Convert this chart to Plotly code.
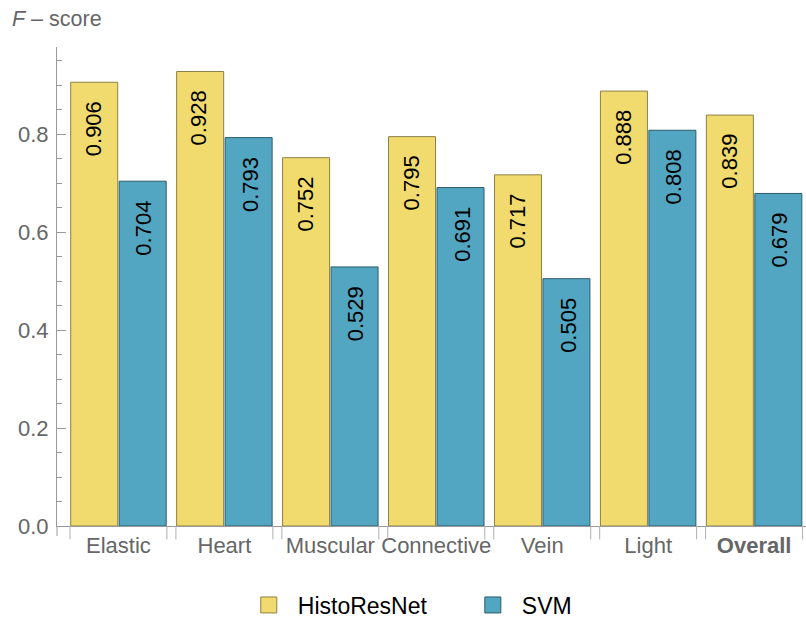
import plotly.graph_objects as go

categories = ["Elastic", "Heart", "Muscular", "Connective", "Vein", "Light", "Overall"]
tick_labels = ["Elastic", "Heart", "Muscular", "Connective", "Vein", "Light", "<b>Overall</b>"]
histo = [0.906, 0.928, 0.752, 0.795, 0.717, 0.888, 0.839]
svm = [0.704, 0.793, 0.529, 0.691, 0.505, 0.808, 0.679]
series_names = ["HistoResNet", "SVM"]

yellow = "#F2DB6E"
yellow_edge = "#8C8048"
blue = "#52A6C1"
blue_edge = "#2D5B6B"
gray_txt = "#666666"
axis_col = "#9A9A9A"
font_family = "Liberation Sans, Arial, sans-serif"

fig = go.Figure()
fig.add_trace(go.Bar(x=categories, y=histo, name=series_names[0], showlegend=False,
                     marker=dict(color=yellow, line=dict(color=yellow_edge, width=1))))
fig.add_trace(go.Bar(x=categories, y=svm, name=series_names[1], showlegend=False,
                     marker=dict(color=blue, line=dict(color=blue_edge, width=1))))
# legend-only markers
for nm, c, e in [(series_names[0] + "     ", yellow, yellow_edge), (series_names[1], blue, blue_edge)]:
    fig.add_trace(go.Scatter(x=[None], y=[None], mode="markers", name=nm,
                             marker=dict(symbol="square", size=22, color=c, line=dict(color=e, width=1))))

annotations = []
for vals, shift in [(histo, -25), (svm, 25.5)]:
    for c, v in zip(categories, vals):
        annotations.append(dict(x=c, y=v, xref="x", yref="y", text=f"{v:.3f}", showarrow=False,
                                textangle=-90, xshift=shift, yshift=-17, yanchor="top",
                                font=dict(family=font_family, size=22, color="black")))

shapes = []
half = 0.4575
for i in range(len(categories)):
    for xx in (i - half, i + half):
        shapes.append(dict(type="line", xref="x", yref="paper", x0=xx, x1=xx, y0=0, y1=-0.028,
                           line=dict(color="#B0B0B0", width=1)))
# y-axis extension below origin
shapes.append(dict(type="line", xref="paper", yref="paper", x0=0, x1=0, y0=0, y1=-0.021,
                   line=dict(color=axis_col, width=1)))

fig.update_layout(
    width=806, height=623,
    margin=dict(l=57, r=0, t=47, b=97, autoexpand=False),
    paper_bgcolor="white", plot_bgcolor="white",
    barmode="group", bargap=0.085, bargroupgap=0.03,
    font=dict(family=font_family, color=gray_txt),
    title=dict(text="<i>F</i> – score", x=12/806, xanchor="left", xref="container",
               y=1 - 18/623, yanchor="middle", yref="container",
               font=dict(family=font_family, size=21.5, color=gray_txt)),
    legend=dict(orientation="h", x=0.469, xanchor="center", y=1 - 605/623, yanchor="middle",
                yref="container",
                font=dict(family=font_family, size=23, color="black"), itemwidth=48,
                traceorder="normal"),
    annotations=annotations,
    shapes=shapes,
)
fig.update_xaxes(range=[-0.58, 6.49], tickmode="array", tickvals=categories, ticktext=tick_labels,
                 showline=True, linecolor=axis_col, linewidth=1, ticks="", showgrid=False,
                 zeroline=False, tickfont=dict(family=font_family, size=22, color=gray_txt))
fig.update_yaxes(range=[0, 0.978], tickvals=[0, 0.2, 0.4, 0.6, 0.8], tickformat=".1f",
                 showline=True, linecolor=axis_col, linewidth=1, ticks="inside", ticklen=9,
                 tickcolor=axis_col, showgrid=False, zeroline=False, ticklabelstandoff=3,
                 minor=dict(tickvals=[0.05, 0.1, 0.15, 0.25, 0.3, 0.35, 0.45, 0.5, 0.55, 0.65, 0.7, 0.75, 0.85, 0.9, 0.95],
                            ticks="inside", ticklen=5, tickcolor=axis_col),
                 tickfont=dict(family=font_family, size=22, color=gray_txt))

fig.write_html("out.html", config={"displayModeBar": False},
               post_script="document.body.style.margin='0';document.body.style.overflow='hidden';")
